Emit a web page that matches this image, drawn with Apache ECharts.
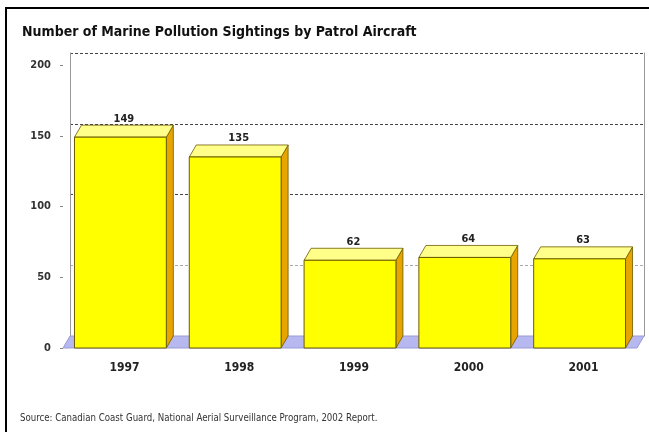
<!DOCTYPE html>
<html>
<head>
<meta charset="utf-8">
<script src="https://cdn.jsdelivr.net/npm/echarts@6/dist/echarts.min.js"></script>
<style>
  html, body { margin: 0; padding: 0; background: #fff; }
  #chart { width: 649px; height: 432px; }
</style>
</head>
<body>
<div id="chart"></div>
<script>
// data
const years = ["1997", "1998", "1999", "2000", "2001"]
const sightings = [149, 135, 62, 64, 63]
const yMax = 200
const yStep = 50

// 3d depth offset of the box look
const DX = 7
const DY = 12
const narrow = "'Liberation Sans Narrow', 'DejaVu Sans Condensed', sans-serif"

const chart = echarts.init(document.getElementById("chart"))

function renderFloor(params, api) {
  const cs = params.coordSys
  const base = api.coord([0, 0])[1]
  const x0 = cs.x, x1 = cs.x + cs.width
  return {
    type: "polygon",
    shape: { points: [[x0, base], [x1, base], [x1 + DX, base - DY], [x0 + DX, base - DY]] },
    style: { fill: "#b8b8f0", stroke: "#9a9ad8", lineWidth: 1 }
  }
}

function renderBar(params, api) {
  const i = api.value(0)
  const v = api.value(1)
  const top = api.coord([i, v])
  const bot = api.coord([i, 0])
  const w = api.size([1, 0])[0] * 0.8
  const x0 = top[0] - w / 2, x1 = top[0] + w / 2
  const y0 = bot[1], y1 = top[1]
  const edge = "#6b5a00"
  return {
    type: "group",
    children: [
      {
        type: "polygon",
        shape: { points: [[x1, y1], [x1 + DX, y1 - DY], [x1 + DX, y0 - DY], [x1, y0]] },
        style: { fill: "#e8a400", stroke: edge, lineWidth: 0.8 }
      },
      {
        type: "polygon",
        shape: { points: [[x0, y1], [x1, y1], [x1 + DX, y1 - DY], [x0 + DX, y1 - DY]] },
        style: { fill: "#ffff8a", stroke: edge, lineWidth: 0.8 }
      },
      {
        type: "rect",
        shape: { x: x0, y: y1, width: w, height: y0 - y1 },
        style: { fill: "#ffff00", stroke: edge, lineWidth: 1 }
      },
      {
        type: "text",
        x: (x0 + x1) / 2 + DX / 2,
        y: y1 - DY - 1,
        style: {
          text: String(v),
          fill: "#222",
          font: "bold 11px " + narrow,
          textAlign: "center",
          textVerticalAlign: "bottom"
        }
      }
    ]
  }
}

const option = {
  animation: false,
  backgroundColor: "#fff",
  title: {
    text: "Number of Marine Pollution Sightings by Patrol Aircraft",
    left: 17,
    top: 20,
    textStyle: { fontFamily: narrow, fontWeight: "bold", fontSize: 14, color: "#111" }
  },
  graphic: [
    {
      type: "rect",
      shape: { x: 6, y: 8, width: 660, height: 440 },
      style: { fill: "none", stroke: "#000", lineWidth: 2 },
      silent: true
    },
    {
      type: "text",
      left: 20,
      top: 413,
      style: {
        text: "Source: Canadian Coast Guard, National Aerial Surveillance Program, 2002 Report.",
        font: "9.6px " + narrow,
        fill: "#333"
      }
    }
  ],
  grid: [
    // front plane: bars and labels
    { left: 63, right: 12, top: 65, bottom: 84 },
    // back wall, shifted by the depth
    { left: 63 + DX, right: 12 - DX, top: 65 - DY, bottom: 84 + DY }
  ],
  xAxis: [
    {
      type: "category",
      gridIndex: 0,
      data: years,
      axisLine: { show: false },
      axisTick: { show: false },
      axisLabel: {
        margin: 14,
        padding: [0, 0, 0, 8],
        fontFamily: narrow,
        fontWeight: "bold",
        fontSize: 12,
        color: "#222"
      }
    },
    { type: "value", gridIndex: 1, show: false }
  ],
  yAxis: [
    {
      type: "value",
      gridIndex: 0,
      min: 0,
      max: yMax,
      interval: yStep,
      splitLine: { show: false },
      axisLine: { show: false },
      axisTick: { show: true, length: 3, lineStyle: { color: "#888" } },
      axisLabel: {
        margin: 12,
        fontFamily: narrow,
        fontWeight: "bold",
        fontSize: 11,
        color: "#333"
      }
    },
    {
      type: "value",
      gridIndex: 1,
      min: 0,
      max: yMax,
      interval: yStep,
      axisLabel: { show: false },
      axisTick: { show: false },
      axisLine: { show: true, lineStyle: { color: "#999" } },
      splitLine: {
        show: true,
        lineStyle: { type: [3, 2], color: ["#555", "#aaa", "#444", "#444", "#444"], width: 1.2 }
      }
    },
    {
      type: "value",
      gridIndex: 1,
      position: "right",
      min: 0,
      max: yMax,
      interval: yStep,
      axisLabel: { show: false },
      axisTick: { show: false },
      splitLine: { show: false },
      axisLine: { show: true, lineStyle: { color: "#999" } }
    }
  ],
  series: [
    {
      type: "custom",
      name: "floor",
      xAxisIndex: 0,
      yAxisIndex: 0,
      z: 1,
      silent: true,
      renderItem: renderFloor,
      data: [[0, 0]]
    },
    {
      type: "custom",
      name: "Sightings",
      xAxisIndex: 0,
      yAxisIndex: 0,
      z: 2,
      renderItem: renderBar,
      encode: { x: 0, y: 1 },
      data: years.map((y, i) => [i, sightings[i]])
    }
  ]
}

chart.setOption(option)
window.addEventListener("resize", function () {
  chart.resize()
})
</script>
</body>
</html>
